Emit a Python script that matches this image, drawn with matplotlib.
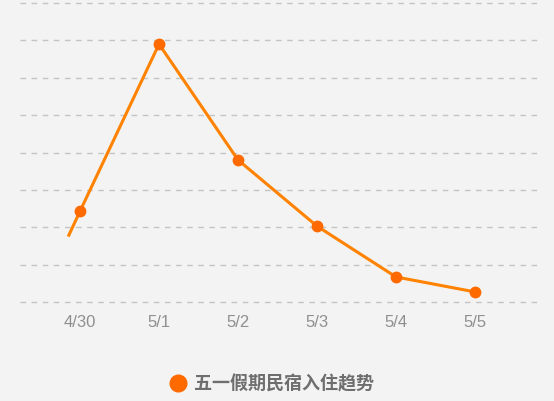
import matplotlib
matplotlib.use("Agg")
import matplotlib.pyplot as plt
from matplotlib.lines import Line2D

plt.rcParams['font.family'] = ['Noto Sans CJK SC', 'DejaVu Sans']

# data
days = ['4/30', '5/1', '5/2', '5/3', '5/4', '5/5']
stays = [2.43, 6.9, 3.8, 2.03, 0.67, 0.27]
# the line pokes out a little to the left of the first point
lead_x = -0.15
lead_y = 1.75
series_name = '五一假期民宿入住趋势'

bg = '#f3f3f3'
line_col = '#ff8200'
dot_col = '#ff6a00'

fig = plt.figure(figsize=(5.54, 4.01), dpi=100, facecolor=bg)
ax = fig.add_axes([20/554, 99/401, 517/554, 299/401], facecolor=bg)

xs = list(range(len(days)))
ax.plot([lead_x] + xs, [lead_y] + stays, color=line_col, lw=2.2, zorder=3,
        solid_capstyle='butt')
ax.plot(xs, stays, 'o', color=dot_col, ms=7.5, zorder=4)

ax.set_xlim(-0.76, 5.785)
ax.set_ylim(0, 8)
ax.set_yticks(range(9))
ax.set_xticks(xs)
ax.set_xticklabels(days, family='Liberation Sans', fontsize=12, color='#8f8f8f')
ax.yaxis.grid(True, color='#c4c4c4', lw=1, linestyle=(0, (4, 4)))
for g in ax.get_ygridlines():
    g.set_clip_on(False)
ax.set_axisbelow(True)
for s in ax.spines.values():
    s.set_visible(False)
ax.tick_params(axis='y', left=False, labelleft=False)
ax.tick_params(axis='x', bottom=False, pad=6)

# legend at the bottom
handle = Line2D([], [], marker='o', ls='none', color=dot_col, ms=12)
leg = fig.legend([handle], [series_name], loc='center', bbox_to_anchor=(0.488, 1 - 384/401),
                 frameon=False, handletextpad=0.3, handlelength=1.2,
                 prop={'size': 13, 'weight': 'bold'})
for t in leg.get_texts():
    t.set_color('#6e6e6e')

fig.savefig('out.png', dpi=100, facecolor=bg)
